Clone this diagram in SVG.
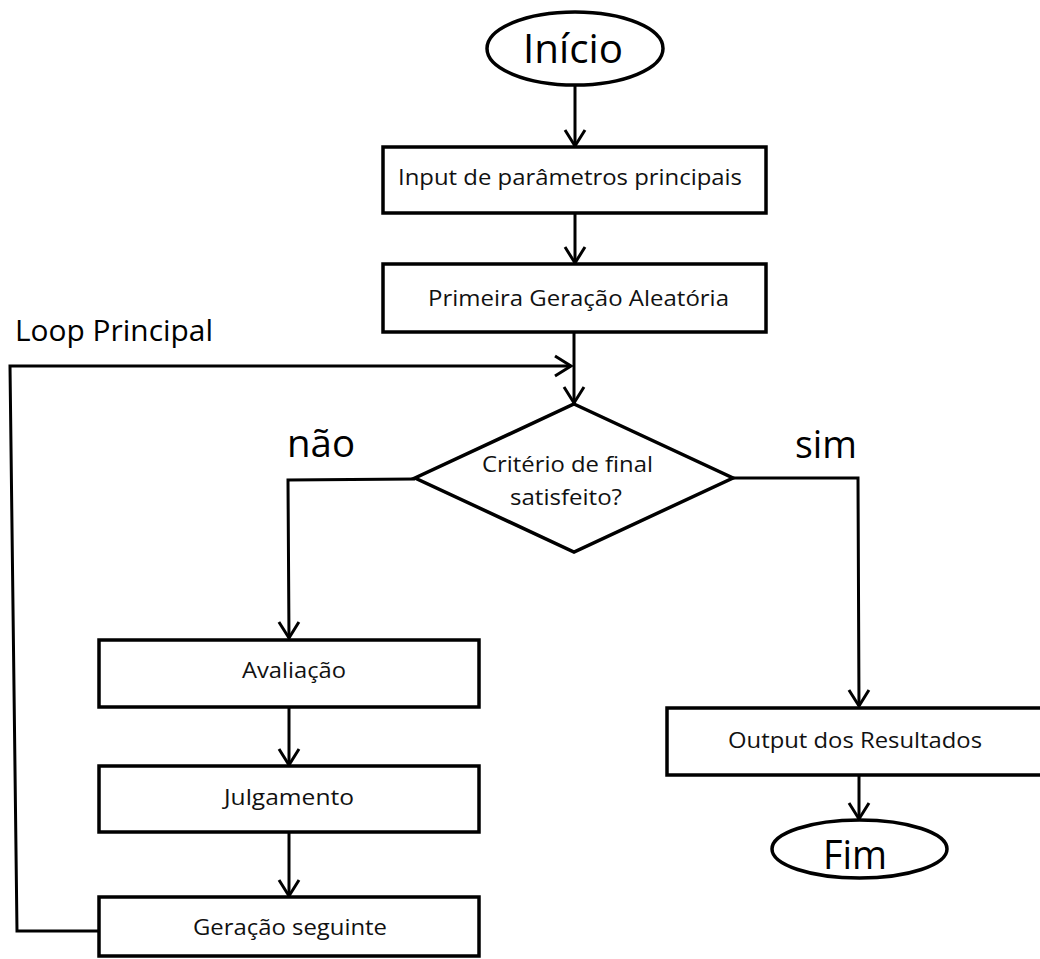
<svg xmlns="http://www.w3.org/2000/svg" width="1040" height="959" viewBox="0 0 1040 959">
<style>
.shape{fill:#fff;stroke:#000;stroke-width:3.5}
.conn{fill:none;stroke:#000;stroke-width:3}
text{font-family:"Open Sans","Noto Sans","Liberation Sans",sans-serif;fill:#000}
.big{font-size:40px}
.lbl{font-size:38px}
.box{font-size:22px;fill:#111}
.loop{font-size:29px}
</style>
<defs>
<marker id="arr" markerUnits="userSpaceOnUse" markerWidth="30" markerHeight="30" viewBox="-20 -15 25 30" refX="0" refY="0" orient="auto">
<path d="M-16,-10 L0,0 L-16,10" fill="none" stroke="#000" stroke-width="3"/>
</marker>
</defs>
<rect width="1040" height="959" fill="#fff"/>
<g id="connectors">
<line class="conn" x1="575" y1="85" x2="575" y2="146" marker-end="url(#arr)"/>
<line class="conn" x1="575" y1="213" x2="575" y2="263" marker-end="url(#arr)"/>
<line class="conn" x1="574" y1="332" x2="574" y2="403" marker-end="url(#arr)"/>
<polyline class="conn" points="100,931 17,931 10,366 571,366" marker-end="url(#arr)"/>
<polyline class="conn" points="415,479 288,480 289,638" marker-end="url(#arr)"/>
<polyline class="conn" points="733,478 858,478 859,706" marker-end="url(#arr)"/>
<line class="conn" x1="289" y1="707" x2="289" y2="765" marker-end="url(#arr)"/>
<line class="conn" x1="289" y1="832" x2="289" y2="896" marker-end="url(#arr)"/>
<line class="conn" x1="859" y1="775" x2="859" y2="819" marker-end="url(#arr)"/>
</g>
<g id="inicio">
<ellipse class="shape" cx="575" cy="48.5" rx="88" ry="36.5"/>
<text class="big" x="573" y="63" text-anchor="middle" textLength="100" lengthAdjust="spacingAndGlyphs">Início</text>
</g>
<g id="input">
<rect class="shape" x="383" y="147" width="383" height="66"/>
<text class="box" x="570" y="185" text-anchor="middle" textLength="344" lengthAdjust="spacingAndGlyphs">Input de parâmetros principais</text>
</g>
<g id="primeira">
<rect class="shape" x="383" y="264" width="383" height="68"/>
<text class="box" x="578.5" y="306" text-anchor="middle" textLength="301" lengthAdjust="spacingAndGlyphs">Primeira Geração Aleatória</text>
</g>
<g id="loop-label">
<text class="loop" x="15" y="341" textLength="198" lengthAdjust="spacingAndGlyphs">Loop Principal</text>
</g>
<g id="criterio">
<polygon class="shape" points="574,404 733,478 574,552 415,478" stroke-width="4.5"/>
<text class="box" x="567.5" y="472" text-anchor="middle" textLength="171" lengthAdjust="spacingAndGlyphs">Critério de final</text>
<text class="box" x="566" y="505" text-anchor="middle" textLength="112" lengthAdjust="spacingAndGlyphs">satisfeito?</text>
</g>
<g id="labels">
<text class="lbl" x="287" y="457" textLength="68" lengthAdjust="spacingAndGlyphs">não</text>
<text class="lbl" x="795" y="458" textLength="62" lengthAdjust="spacingAndGlyphs">sim</text>
</g>
<g id="avaliacao">
<rect class="shape" x="99" y="640" width="380" height="67"/>
<text class="box" x="294" y="678" text-anchor="middle" textLength="104" lengthAdjust="spacingAndGlyphs">Avaliação</text>
</g>
<g id="julgamento">
<rect class="shape" x="99" y="766" width="380" height="66"/>
<text class="box" x="289" y="805" text-anchor="middle" textLength="130" lengthAdjust="spacingAndGlyphs">Julgamento</text>
</g>
<g id="geracao">
<rect class="shape" x="99" y="897" width="380" height="59"/>
<text class="box" x="290" y="935" text-anchor="middle" textLength="194" lengthAdjust="spacingAndGlyphs">Geração seguinte</text>
</g>
<g id="output">
<rect class="shape" x="667" y="708" width="385" height="67"/>
<text class="box" x="855" y="748" text-anchor="middle" textLength="254" lengthAdjust="spacingAndGlyphs">Output dos Resultados</text>
</g>
<g id="fim">
<ellipse class="shape" cx="859.5" cy="849" rx="87.5" ry="29"/>
<text class="big" x="855" y="869" text-anchor="middle" textLength="64" lengthAdjust="spacingAndGlyphs">Fim</text>
</g>
</svg>
